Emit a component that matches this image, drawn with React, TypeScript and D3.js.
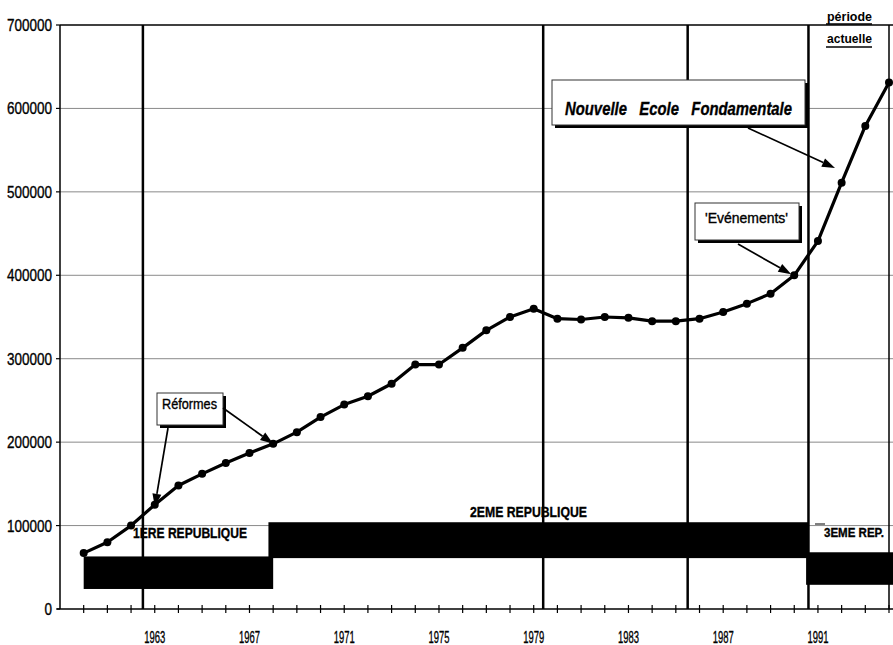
import React from "react";
import * as d3 from "d3";

const years = [1960, 1961, 1962, 1963, 1964, 1965, 1966, 1967, 1968, 1969, 1970, 1971, 1972, 1973, 1974, 1975, 1976, 1977, 1978, 1979, 1980, 1981, 1982, 1983, 1984, 1985, 1986, 1987, 1988, 1989, 1990, 1991, 1992, 1993, 1994];
const students = [67000, 80000, 100000, 125000, 148000, 162000, 175000, 187000, 198000, 212000, 230000, 245000, 255000, 270000, 293000, 293000, 313000, 334000, 350000, 360000, 348000, 347000, 350000, 349000, 345000, 345000, 348000, 356000, 366000, 378000, 400000, 441000, 511000, 579000, 631000];

const yTicks = [0, 100000, 200000, 300000, 400000, 500000, 600000, 700000];
const xLabelYears = [1963, 1967, 1971, 1975, 1979, 1983, 1987, 1991];
const xTickLabels = ["1963", "1967", "1971", "1975", "1979", "1983", "1987", "1991"];

const dividerYears = [1962.5, 1979.4, 1985.5, 1990.6];

const periodNames = ["1ERE REPUBLIQUE", "2EME REPUBLIQUE", "3EME REP."];
const periodStart = [1960, 1967.8, 1990.5];
const periodEnd = [1968, 1990.6, 1996];
const periodLow = [24000, 61000, 29000];
const periodHigh = [63000, 104000, 68000];

const FONT = "'Liberation Sans', Arial, sans-serif";

function Arrow({ x1, y1, x2, y2 }: { x1: number; y1: number; x2: number; y2: number }) {
  const ang = Math.atan2(y2 - y1, x2 - x1);
  const len = 13;
  const w = 4.5;
  const bx = x2 - len * Math.cos(ang);
  const by = y2 - len * Math.sin(ang);
  const px = -Math.sin(ang) * w;
  const py = Math.cos(ang) * w;
  return (
    <g>
      <line x1={x1} y1={y1} x2={bx} y2={by} stroke="#000" strokeWidth={1.7} />
      <polygon points={`${x2},${y2} ${bx + px},${by + py} ${bx - px},${by - py}`} fill="#000" />
    </g>
  );
}

function Box({ x, y, w, h }: { x: number; y: number; w: number; h: number }) {
  return (
    <g>
      <rect x={x + 3} y={y + 3} width={w} height={h} fill="#000" />
      <rect x={x} y={y} width={w} height={h} fill="#fff" stroke="#333" strokeWidth={1} />
    </g>
  );
}

export default function App() {
  const x = d3.scaleLinear().domain([1959, 1994]).range([60, 889]);
  const y = d3.scaleLinear().domain([0, 700000]).range([609, 25]);
  const line = d3
    .line<number>()
    .x((_, i) => x(years[i]))
    .y((d) => y(d))
    .curve(d3.curveLinear);

  const pt = (yr: number) => {
    const i = years.indexOf(yr);
    return [x(years[i]), y(students[i])];
  };
  const p1963 = pt(1963);
  const p1968 = pt(1968);
  const p1990 = pt(1990);

  const tickYears: number[] = [];
  for (let t = 1960; t <= 1995; t++) tickYears.push(t);

  const heavy = { stroke: "#000", strokeWidth: 0.35 };

  return (
    <div style={{ position: "absolute", left: 0, top: 0 }}>
      <svg width={893} height={645} style={{ display: "block", background: "#fff" }}>
        {/* grid */}
        {yTicks.slice(1, -1).map((t) => (
          <line key={t} x1={60} x2={893} y1={y(t)} y2={y(t)} stroke="#8a8a8a" strokeWidth={1} />
        ))}
        {/* period bars */}
        {periodNames.map((p, i) => (
          <rect
            key={p}
            x={x(periodStart[i])}
            y={y(periodHigh[i])}
            width={x(periodEnd[i]) - x(periodStart[i])}
            height={y(periodLow[i]) - y(periodHigh[i])}
            fill="#000"
          />
        ))}
        {/* dividers */}
        {dividerYears.map((d) => (
          <line key={d} x1={x(d)} x2={x(d)} y1={y(700000)} y2={y(0)} stroke="#000" strokeWidth={2.5} />
        ))}
        {/* frame */}
        <line x1={60} x2={893} y1={y(700000)} y2={y(700000)} stroke="#000" strokeWidth={1.6} />
        <line x1={889} x2={889} y1={y(700000)} y2={y(0)} stroke="#000" strokeWidth={1.5} />
        <line x1={60} x2={60} y1={y(700000)} y2={y(0)} stroke="#000" strokeWidth={1.5} />
        <line x1={57} x2={893} y1={y(0)} y2={y(0)} stroke="#000" strokeWidth={1.3} />
        {tickYears.map((t) => (
          <line key={t} x1={x(t)} x2={x(t)} y1={y(0) - 4} y2={y(0) + 4} stroke="#000" strokeWidth={1.2} />
        ))}
        {yTicks.map((t) => (
          <line key={t} x1={56} x2={60} y1={y(t)} y2={y(t)} stroke="#000" strokeWidth={1.2} />
        ))}
        {/* y labels */}
        {yTicks.map((t) => {
          const s = String(t);
          return (
            <text
              key={t}
              x={52 - s.length * 7.5}
              y={y(t) + 6}
              fontFamily={FONT}
              fontSize={16}
              textLength={s.length * 7.5}
              lengthAdjust="spacingAndGlyphs"
              fill="#000"
              {...heavy}
            >
              {s}
            </text>
          );
        })}
        {/* x labels */}
        {xTickLabels.map((s, i) => (
          <text
            key={s}
            x={x(xLabelYears[i]) - 10.5}
            y={643}
            fontFamily={FONT}
            fontSize={16}
            textLength={21}
            lengthAdjust="spacingAndGlyphs"
            fill="#000"
            {...heavy}
          >
            {s}
          </text>
        ))}
        {/* period labels */}
        <text x={133} y={538} fontFamily={FONT} fontWeight="bold" fontSize={15} textLength={114} lengthAdjust="spacingAndGlyphs" {...heavy}>
          {periodNames[0]}
        </text>
        <text x={470} y={517} fontFamily={FONT} fontWeight="bold" fontSize={15} textLength={117} lengthAdjust="spacingAndGlyphs" {...heavy}>
          {periodNames[1]}
        </text>
        <line x1={815} x2={825} y1={524} y2={524} stroke="#000" strokeWidth={1} />
        <text x={824} y={537} fontFamily={FONT} fontWeight="bold" fontSize={13.5} textLength={60} lengthAdjust="spacingAndGlyphs" {...heavy}>
          {periodNames[2]}
        </text>
        {/* data line */}
        <path d={line(students) || ""} fill="none" stroke="#000" strokeWidth={3.2} strokeLinejoin="round" />
        {students.map((v, i) => (
          <circle key={years[i]} cx={x(years[i])} cy={y(v)} r={4} fill="#000" />
        ))}
        {/* annotations */}
        <Box x={157} y={393} w={66} h={32} />
        <text x={162} y={409} fontFamily={FONT} fontSize={14} textLength={55} lengthAdjust="spacingAndGlyphs" {...heavy}>
          Réformes
        </text>
        <Arrow x1={168} y1={428} x2={p1963[0]} y2={p1963[1] + 2} />
        <Arrow x1={223} y1={408} x2={p1968[0]} y2={p1968[1]} />

        <Box x={552} y={80} w={253} h={45} />
        <text
          x={565}
          y={115}
          fontFamily={FONT}
          fontWeight="bold"
          fontStyle="italic"
          fontSize={18}
          textLength={227}
          lengthAdjust="spacingAndGlyphs"
          style={{ whiteSpace: "pre" }}
          {...heavy}
        >
          {"Nouvelle   Ecole   Fondamentale"}
        </text>
        <Arrow x1={748} y1={128} x2={835} y2={168} />

        <Box x={695} y={203} w={104} h={37} />
        <text x={705} y={223} fontFamily={FONT} fontSize={14} textLength={83} lengthAdjust="spacingAndGlyphs" {...heavy}>
          'Evénements'
        </text>
        <Arrow x1={738} y1={244} x2={p1990[0] - 3} y2={p1990[1] - 1} />

        {/* période actuelle */}
        <text x={827} y={21} fontFamily={FONT} fontWeight="bold" fontSize={13} textLength={45} lengthAdjust="spacingAndGlyphs">
          période
        </text>
        <line x1={826} x2={872} y1={24} y2={24} stroke="#000" strokeWidth={1.3} />
        <text x={827} y={43} fontFamily={FONT} fontWeight="bold" fontSize={13} textLength={45} lengthAdjust="spacingAndGlyphs">
          actuelle
        </text>
        <line x1={826} x2={872} y1={47} y2={47} stroke="#000" strokeWidth={1.3} />
      </svg>
    </div>
  );
}
